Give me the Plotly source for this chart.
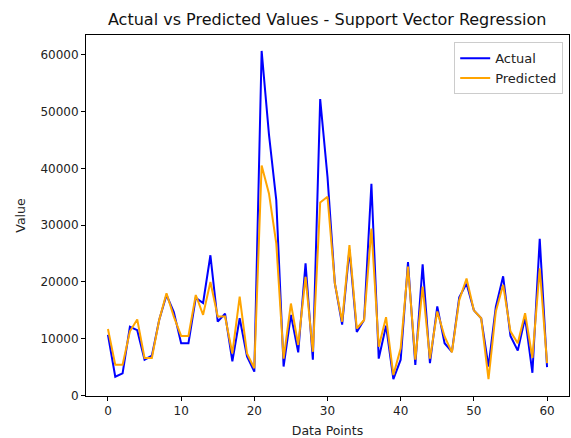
import plotly.graph_objects as go

x_points = list(range(61))
actual = [10700, 3300, 3900, 12100, 11500, 6300, 7000, 13300, 17700, 14700,
          9200, 9200, 17200, 16300, 24700, 13000, 14400, 6000, 13600, 6900,
          4200, 60700, 46000, 34400, 5100, 14200, 7600, 23300, 6300, 52200,
          38500, 19800, 12500, 25700, 11200, 13300, 37300, 6500, 12300, 2900,
          6300, 23500, 5400, 23100, 5700, 15700, 9200, 7700, 17300, 19700,
          15000, 13600, 5100, 15600, 21000, 10500, 7900, 13700, 4000, 27600, 5000]
predicted = [11700, 5400, 5400, 11300, 13400, 6600, 6600, 13300, 18000, 13900,
             10500, 10500, 17700, 14200, 20000, 13900, 13900, 7400, 17400, 7400,
             4800, 40500, 35600, 26800, 6500, 16200, 8900, 20900, 7700, 34000,
             35000, 19800, 13000, 26500, 11800, 13300, 29400, 8600, 13800, 3600,
             8300, 22700, 6300, 19200, 6500, 14800, 10400, 7600, 16800, 20600,
             15000, 13600, 2900, 14800, 19500, 11300, 9200, 14500, 6600, 22400, 5700]

font = "DejaVu Sans"
fig = go.Figure()
fig.add_trace(go.Scatter(x=x_points, y=actual, mode="lines", name="Actual",
                         line=dict(color="blue", width=2)))
fig.add_trace(go.Scatter(x=x_points, y=predicted, mode="lines", name="Predicted",
                         line=dict(color="orange", width=2)))

axis_common = dict(showline=True, linecolor="black", linewidth=1, mirror=True,
                   ticks="outside", ticklen=4, tickcolor="black", showgrid=False,
                   zeroline=False, tickfont=dict(family=font, size=12, color="#222"))
fig.update_layout(
    width=571, height=438,
    margin=dict(l=86, r=2, t=35, b=42),
    paper_bgcolor="white", plot_bgcolor="white",
    title=dict(text="Actual vs Predicted Values - Support Vector Regression",
               x=0.573, xanchor="center", y=0.955, yanchor="middle",
               font=dict(family=font, size=16, color="#111")),
    xaxis=dict(range=[-3, 63], tickvals=[0, 10, 20, 30, 40, 50, 60],
               title=dict(text="Data Points", font=dict(family=font, size=12.5, color="#222"), standoff=9),
               **axis_common),
    yaxis=dict(range=[-90, 63500], tickvals=[0, 10000, 20000, 30000, 40000, 50000, 60000],
               tickformat="d",
               title=dict(text="Value", font=dict(family=font, size=12.5, color="#222"), standoff=12),
               **axis_common),
    legend=dict(x=0.988, y=0.98, xanchor="right", yanchor="top",
                bgcolor="rgba(255,255,255,0.8)", bordercolor="#ccc", borderwidth=1,
                font=dict(family=font, size=13, color="#222"), tracegroupgap=0,
                itemwidth=30),
    showlegend=True,
)
fig.write_html("out.html")
